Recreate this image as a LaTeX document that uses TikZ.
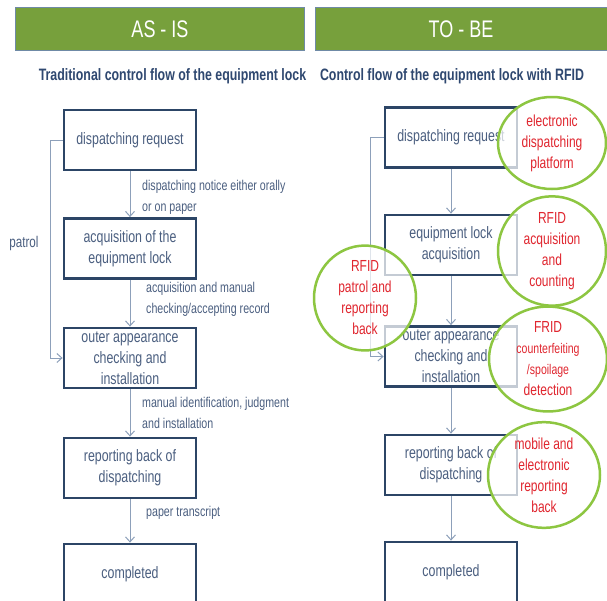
\documentclass[tikz,border=0pt]{standalone}
\usepackage{fontspec}
\setmainfont{Liberation Sans}[FakeStretch=0.75]
\usetikzlibrary{arrows.meta,shapes.geometric}
\definecolor{hdrgreen}{HTML}{77A03C}
\definecolor{hdredge}{HTML}{6F8AA6}
\definecolor{navy}{HTML}{2C4566}
\definecolor{boxtext}{HTML}{4B5F80}
\definecolor{arrowc}{HTML}{8DA0BA}
\definecolor{subt}{HTML}{2F4870}
\definecolor{ringgreen}{HTML}{8DC641}
\definecolor{redtxt}{HTML}{E0262F}
\tikzset{
  hdrbar/.style={draw=hdredge, line width=0.8pt, fill=hdrgreen},
  hdrtext/.style={text=white, font=\fontsize{24}{28}\selectfont},
  subtitle/.style={text=subt, font=\bfseries\fontsize{16.5}{20}\selectfont},
  stepbox/.style={draw=navy, line width=2.8pt, fill=white, minimum width=132pt, minimum height=60pt,
    text=boxtext, align=center, inner sep=0pt, font=\fontsize{16.5}{21}\selectfont},
  flow/.style={draw=arrowc, line width=1pt, -{Straight Barb[length=5pt,width=9pt]}},
  lbl/.style={text=boxtext, anchor=west, align=left, inner sep=0pt, font=\fontsize{14.2}{21}\selectfont},
  ring/.style={ellipse, draw=ringgreen, line width=2.5pt, fill=white, fill opacity=0.72, text opacity=1,
    text=redtxt, align=center, inner sep=0pt, font=\fontsize{16}{21}\selectfont},
}
\begin{document}
\begin{tikzpicture}[x=1pt,y=-1pt]
\clip (0,0) rectangle (607,600);
\fill[white] (0,0) rectangle (607,600);
% headers
\draw[hdrbar] (15.5,7) rectangle (304,50);
\draw[hdrbar] (315,7) rectangle (612,50);
\node[hdrtext] (h1) at (160,29) {AS - IS};
\node[hdrtext] (h2) at (461,29) {TO - BE};
\node[subtitle] (s1) at (172.5,76) {Traditional control flow of the equipment lock};
\node[subtitle] (s2) at (452,76) {Control flow of the equipment lock with RFID};
% AS-IS boxes
\node[stepbox] (a1) at (130,140) {dispatching request};
\node[stepbox] (a2) at (130,248.5) {acquisition of the\\equipment lock};
\node[stepbox] (a3) at (130,358) {outer appearance\\checking and\\installation};
\node[stepbox] (a4) at (130,468) {reporting back of\\dispatching};
\node[stepbox] (a5) at (130,574) {completed};
\draw[flow] (a1) -- (a2);
\draw[flow] (a2) -- (a3);
\draw[flow] (a3) -- (a4);
\draw[flow] (a4) -- (a5);
\coordinate (pa) at (50,140);
\draw[flow] (a1.west) -- (pa) |- (a3.west);
\node[text=boxtext, font=\fontsize{15.5}{20}\selectfont] (pt) at (24,243) {patrol};
\node[lbl] (l1) at (142,197.5) {dispatching notice either orally\\or on paper};
\node[lbl] (l2) at (146,299.5) {acquisition and manual\\checking/accepting record};
\node[lbl] (l3) at (142,412.5) {manual identification, judgment\\and installation};
\node[lbl] (l4) at (146,513) {paper transcript};
% TO-BE boxes
\node[stepbox] (b1) at (451,137.5) {dispatching request};
\node[stepbox] (b2) at (451,245) {equipment lock\\acquisition};
\node[stepbox] (b3) at (451,356.5) {outer appearance\\checking and\\installation};
\node[stepbox] (b4) at (451,465) {reporting back of\\dispatching};
\node[stepbox] (b5) at (451,572) {completed};
\draw[flow] (b1) -- (b2);
\draw[flow] (b2) -- (b3);
\draw[flow] (b3) -- (b4);
\draw[flow] (b4) -- (b5);
\coordinate (pb) at (370,137.5);
\draw[flow] (b1.west) -- (pb) |- (b3.west);
% rings
\node[ring, minimum width=108pt, minimum height=92pt] (r1) at (552,143) {electronic\\dispatching\\platform};
\node[ring, minimum width=108pt, minimum height=94pt] (r2) at (552,251) {RFID\\acquisition\\and\\counting};
\node[ring, minimum width=102pt, minimum height=94pt] (r3) at (365,298) {RFID\\patrol and\\reporting\\back};
\node[ring, minimum width=118pt, minimum height=94pt] (r4) at (548,359) {FRID\\{\fontsize{14}{21}\selectfont counterfeiting}\\{\fontsize{14}{21}\selectfont /spoilage}\\detection};
\node[ring, minimum width=112pt, minimum height=94pt] (r5) at (544,475) {mobile and\\electronic\\reporting\\back};
\end{tikzpicture}
\end{document}
